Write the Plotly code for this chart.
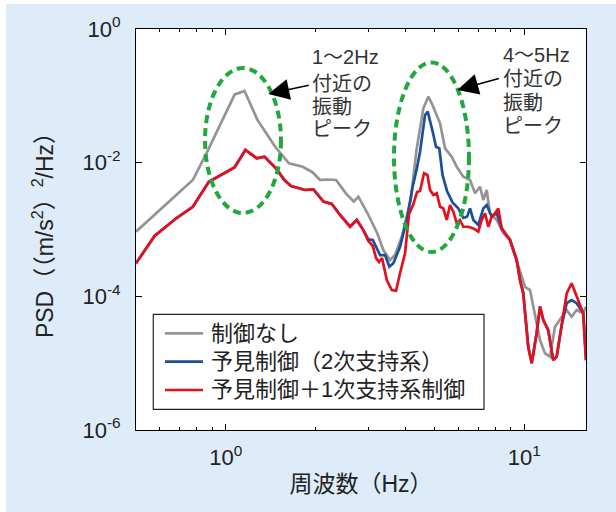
import plotly.graph_objects as go

# ---- data ----
freq_gray = [0.500, 0.775, 0.861, 1.071, 1.155, 1.277, 1.463, 1.627, 1.809, 1.951,
             2.069, 2.178, 2.341, 2.525, 2.682, 2.781, 2.983, 3.217, 3.372, 3.549,
             3.690, 3.886, 4.162, 4.355, 4.590, 4.770, 4.897, 5.023, 5.221, 5.426,
             5.714, 5.938, 6.248, 6.580, 6.839, 7.107, 7.290, 7.483, 7.676, 8.084,
             8.506, 8.957, 9.674, 10.05, 10.45, 10.86, 11.29, 11.73, 12.20, 12.67,
             13.17, 13.87, 14.41, 14.98, 15.76, 16.10]
psd_gray = [9.27e-4, 5.5e-3, 1.38e-2, 0.105, 0.118, 0.0435, 0.0173, 9.8e-3, 8.7e-3, 7.2e-3,
            5.5e-3, 5.6e-3, 5.5e-3, 3.48e-3, 2.61e-3, 3.10e-3, 1.75e-3, 8.8e-4, 4.93e-4, 3.49e-4,
            4.15e-4, 7.8e-4, 2.76e-3, 0.0155, 0.065, 0.097, 0.0773, 0.058, 0.0388, 0.0164,
            0.0123, 8.7e-3, 6.17e-3, 5.5e-3, 3.48e-3, 4.37e-3, 2.76e-3, 3.90e-3, 1.75e-3, 1.39e-3,
            8.8e-4, 6.97e-4, 2.48e-4, 1.39e-4, 1.24e-4, 5.57e-5, 2.22e-5, 1.40e-5, 1.25e-5, 3.51e-5,
            4.43e-5, 6.24e-5, 4.95e-5, 6.24e-5, 5.57e-5, 7.0e-5]

freq_blue = [0.500, 0.577, 0.682, 0.775, 0.877, 0.964, 1.069, 1.163, 1.270, 1.347,
             1.474, 1.571, 1.654, 1.844, 1.965, 2.123, 2.265, 2.414, 2.608, 2.746,
             2.889, 3.003, 3.107, 3.187, 3.287, 3.416, 3.531, 3.642, 3.834, 4.039,
             4.226, 4.355, 4.474, 4.650, 4.748, 4.934, 5.061, 5.191, 5.321, 5.509,
             5.748, 5.998, 6.248, 6.429, 6.580, 6.749, 7.014, 7.290, 7.483, 7.777,
             8.084, 8.401, 8.957, 9.432, 9.674, 9.923, 10.31, 10.59, 11.00, 11.29,
             11.58, 12.03, 12.50, 12.84, 13.35, 13.87, 14.41, 14.98, 15.76, 16.10]
psd_blue = [3.12e-4, 8.0e-4, 1.47e-3, 2.19e-3, 5.19e-3, 6.54e-3, 8.5e-3, 0.0155, 0.0116, 0.0123,
            8.2e-3, 5.5e-3, 4.48e-3, 3.90e-3, 3.99e-3, 2.61e-3, 2.41e-3, 1.65e-3, 1.10e-3, 1.39e-3,
            9.8e-4, 7.1e-4, 6.97e-4, 5.5e-4, 4.15e-4, 4.15e-4, 2.77e-4, 3.12e-4, 5.5e-4, 1.39e-3,
            4.37e-3, 7.8e-3, 0.0146, 0.0517, 0.058, 0.029, 0.0173, 0.0164, 6.54e-3, 3.77e-3,
            2.54e-3, 2.10e-3, 1.49e-3, 1.55e-3, 2.07e-3, 1.39e-3, 1.17e-3, 2.07e-3, 2.32e-3, 1.55e-3,
            1.75e-3, 1.04e-3, 6.97e-4, 3.49e-4, 1.75e-4, 1.11e-4, 1.76e-5, 9.95e-6, 2.80e-5, 7.0e-5,
            4.43e-5, 3.13e-5, 1.11e-5, 1.25e-5, 3.72e-5, 7.9e-5, 8.8e-5, 7.9e-5, 5.57e-5, 1.11e-5]

freq_red = [0.500, 0.577, 0.682, 0.775, 0.877, 0.964, 1.069, 1.163, 1.270, 1.347,
            1.474, 1.571, 1.654, 1.844, 1.965, 2.123, 2.265, 2.414, 2.608, 2.746,
            2.889, 3.003, 3.107, 3.187, 3.262, 3.338, 3.462, 3.597, 3.718, 3.834,
            3.985, 4.111, 4.240, 4.372, 4.474, 4.615, 4.735, 4.835, 4.960, 5.091,
            5.221, 5.355, 5.497, 5.639, 5.784, 5.938, 6.091, 6.248, 6.494, 6.749,
            7.014, 7.200, 7.387, 7.577, 7.777, 7.978, 8.183, 8.401, 8.957, 9.432,
            9.674, 9.923, 10.31, 10.59, 11.00, 11.29, 11.58, 12.03, 12.50, 12.84,
            13.35, 13.87, 14.41, 14.98, 15.76, 16.10]
psd_red = [3.12e-4, 8.0e-4, 1.47e-3, 2.19e-3, 5.19e-3, 6.54e-3, 8.5e-3, 0.0155, 0.0116, 0.0123,
           8.2e-3, 5.5e-3, 4.48e-3, 3.90e-3, 3.99e-3, 2.61e-3, 2.41e-3, 1.65e-3, 1.10e-3, 1.39e-3,
           9.8e-4, 6.73e-4, 5.66e-4, 3.74e-4, 3.26e-4, 3.74e-4, 1.75e-4, 1.24e-4, 1.21e-4, 2.21e-4,
           4.40e-4, 1.71e-3, 2.32e-3, 3.64e-3, 3.77e-3, 6.93e-3, 6.54e-3, 3.90e-3, 3.28e-3, 3.48e-3,
           2.19e-3, 2.07e-3, 1.39e-3, 2.32e-3, 1.85e-3, 1.24e-3, 1.39e-3, 1.10e-3, 1.10e-3, 1.04e-3,
           9.27e-4, 1.39e-3, 1.75e-3, 1.10e-3, 1.55e-3, 1.75e-3, 2.07e-3, 1.04e-3, 6.97e-4, 3.49e-4,
           1.75e-4, 1.11e-4, 1.76e-5, 9.95e-6, 2.80e-5, 7.0e-5, 4.43e-5, 3.13e-5, 1.11e-5, 1.25e-5,
           3.72e-5, 1.11e-4, 1.57e-4, 9.9e-5, 5.57e-5, 1.11e-5]

series_names = ["制御なし", "予見制御（2次支持系）", "予見制御＋1次支持系制御"]
series_colors = ["#949494", "#1c4f9c", "#e60f1e"]

x_tickvals = [1, 10]
x_ticktext = ["10<sup>0</sup>", "10<sup>1</sup>"]
x_minor = [0.6, 0.7, 0.8, 0.9, 2, 3, 4, 5, 6, 7, 8, 9]
y_tickvals = [1, 1e-2, 1e-4, 1e-6]
y_ticktext = ["10<sup>0</sup>", "10<sup>-2</sup>", "10<sup>-4</sup>", "10<sup>-6</sup>"]

label1 = ["1～2Hz", "付近の", "振動", "ピーク"]
label2 = ["4～5Hz", "付近の", "振動", "ピーク"]

FONT = "Liberation Sans, Noto Sans CJK JP"
BG = "#deebf8"
TXT = "#222222"

fig = go.Figure()
for xs, ys, nm, col in [(freq_gray, psd_gray, series_names[0], series_colors[0]),
                        (freq_blue, psd_blue, series_names[1], series_colors[1]),
                        (freq_red, psd_red, series_names[2], series_colors[2])]:
    fig.add_trace(go.Scatter(x=xs, y=ys, mode="lines", name=nm,
                             line=dict(color=col, width=2.7)))

shapes = [
    # white strips at top/left of the figure
    dict(type="rect", xref="paper", yref="paper", x0=-0.31, x1=1.07, y0=1.0625, y1=1.08,
         fillcolor="white", line=dict(width=0), layer="above"),
    dict(type="rect", xref="paper", yref="paper", x0=-0.31, x1=-0.2889, y0=-0.21, y1=1.08,
         fillcolor="white", line=dict(width=0), layer="above"),
    # green dashed ellipses
    dict(type="circle", xref="paper", yref="paper", x0=0.1533, x1=0.3222, y0=0.5411, y1=0.9027,
         line=dict(color="#21a83d", width=4, dash="8px,5px")),
    dict(type="circle", xref="paper", yref="paper", x0=0.5733, x1=0.7400, y0=0.4439, y1=0.9165,
         line=dict(color="#21a83d", width=4, dash="8px,5px")),
    # legend box
    dict(type="rect", xref="paper", yref="paper", x0=0.0384, x1=0.7733, y0=0.0516, y1=0.2885,
         fillcolor="white", line=dict(color=TXT, width=1.2), layer="above"),
]

annotations = []
ys1 = [0.9309, 0.8628, 0.8047, 0.7506]
ys2 = [0.9352, 0.8753, 0.8167, 0.7581]
for t, yy in zip(label1, ys1):
    annotations.append(dict(text=t, xref="paper", yref="paper", x=0.3867, y=yy,
                            xanchor="left", yanchor="middle", showarrow=False,
                            font=dict(family=FONT, size=20, color="#333333")))
for t, yy in zip(label2, ys2):
    annotations.append(dict(text=t, xref="paper", yref="paper", x=0.8104, y=yy,
                            xanchor="left", yanchor="middle", showarrow=False,
                            font=dict(family=FONT, size=20, color="#333333")))
# arrows
annotations.append(dict(text="", xref="paper", yref="paper", x=0.294, y=0.8379,
                        ax=42, ay=-9, showarrow=True, arrowhead=2, arrowsize=2.8,
                        arrowwidth=1.5, arrowcolor="black"))
annotations.append(dict(text="", xref="paper", yref="paper", x=0.714, y=0.8479,
                        ax=43, ay=-12, showarrow=True, arrowhead=2, arrowsize=2.8,
                        arrowwidth=1.5, arrowcolor="black"))

# legend (drawn as line samples + text labels)
leg_rows = [0.2411, 0.1703, 0.0998]
for nm, col, yy in zip(series_names, series_colors, leg_rows):
    shapes.append(dict(type="line", xref="paper", yref="paper", x0=0.0644, x1=0.1489, y0=yy, y1=yy,
                       line=dict(color=col, width=2.7), layer="above"))
    annotations.append(dict(text=nm, xref="paper", yref="paper", x=0.1622, y=yy,
                            xanchor="left", yanchor="middle", showarrow=False,
                            font=dict(family=FONT, size=22, color=TXT)))

fig.update_layout(
    width=616, height=512,
    margin=dict(l=136, r=30, t=29, b=82),
    paper_bgcolor=BG, plot_bgcolor="white",
    font=dict(family=FONT, color=TXT),
    shapes=shapes, annotations=annotations,
    showlegend=False,
)
fig.update_xaxes(type="log", range=[-0.30103, 1.2068], automargin=False,
                 tickmode="array", tickvals=x_tickvals, ticktext=x_ticktext,
                 ticks="inside", ticklen=6, tickcolor="black",
                 minor=dict(tickmode="array", tickvals=x_minor, ticks="inside", ticklen=3, tickcolor="black"),
                 showline=True, linecolor="black", linewidth=1, mirror="ticks",
                 showgrid=False, zeroline=False,
                 tickfont=dict(family=FONT, size=22, color=TXT), ticklabelstandoff=8,
                 title=dict(text="周波数（Hz）", font=dict(family=FONT, size=23, color=TXT), standoff=6))
fig.update_yaxes(type="log", range=[-6, 0], automargin=False,
                 tickmode="array", tickvals=y_tickvals, ticktext=y_ticktext,
                 ticks="inside", ticklen=6, tickcolor="black",
                 showline=True, linecolor="black", linewidth=1, mirror="ticks",
                 showgrid=False, zeroline=False,
                 tickfont=dict(family=FONT, size=22, color=TXT), ticklabelstandoff=10,
                 title=dict(text="PSD（（m/s<sup>2</sup>）<sup>2</sup>/Hz）",
                            font=dict(family=FONT, size=23, color=TXT), standoff=22))

fig.write_html("out.html", config={"displayModeBar": False},
               post_script="document.body.style.margin='0';")
